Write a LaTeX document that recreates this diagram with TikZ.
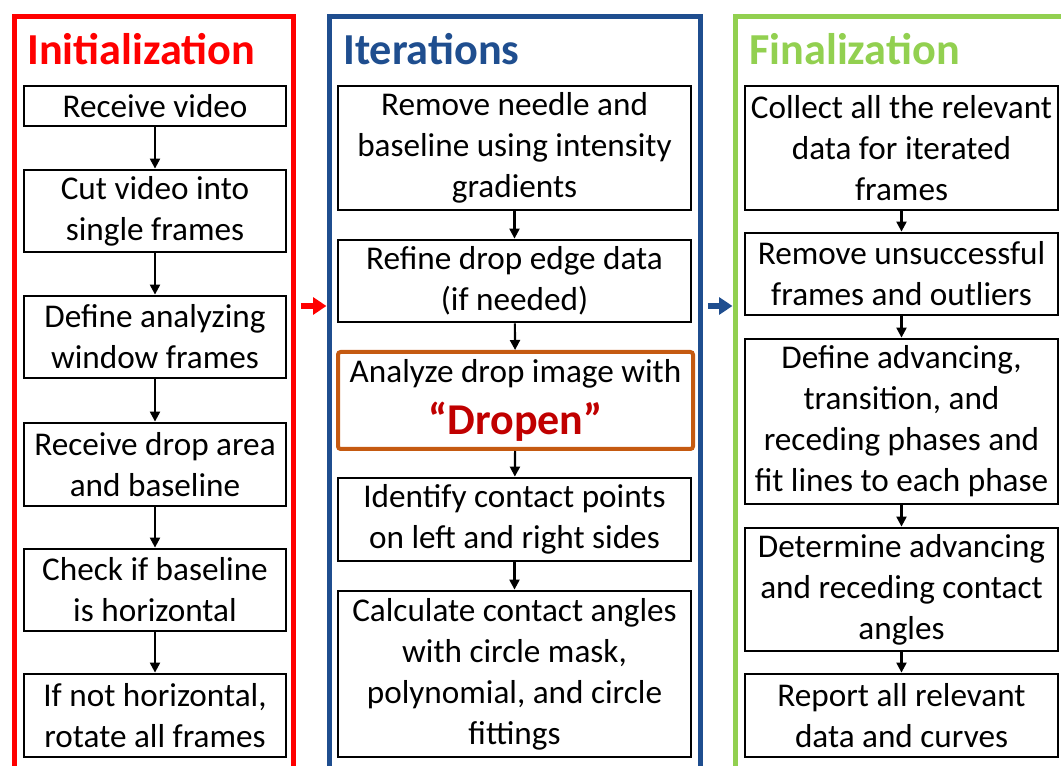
\documentclass[tikz,border=0pt]{standalone}
\usepackage{fontspec}
\setmainfont{Carlito}
\usetikzlibrary{arrows.meta}
\definecolor{initred}{HTML}{FF0000}
\definecolor{iterblue}{HTML}{1F4E8F}
\definecolor{fingreen}{HTML}{92D050}
\definecolor{dropenorange}{HTML}{C55A11}
\definecolor{dropenred}{HTML}{C00000}

\begin{document}
\begin{tikzpicture}
[x=0.75pt,y=-0.75pt,
panel/.style={draw,line width=3.75pt,inner sep=0pt},
title/.style={anchor=base west,inner sep=0pt,font=\fontsize{33.2}{40}\selectfont\bfseries},
stepbox/.style={draw,line width=2.1pt,align=center,inner xsep=0pt,inner ysep=0pt,font=\fontsize{24.9}{30.75}\selectfont},
flow/.style={line width=1.6pt,-{Triangle[length=7.5pt,width=7.5pt]}},
jump/.style={line width=4pt,-{Triangle[length=10pt,width=12.5pt]},shorten <=4pt}]
\useasboundingbox (0,0) rectangle (1061,766);
\clip (0,0) rectangle (1061,766);
% panels
\node[panel,draw=initred,minimum width=209.25pt,minimum height=587.25pt] (init) at (153.5,408.5) {};
\node[panel,draw=iterblue,minimum width=278.25pt,minimum height=587.25pt] (iter) at (514.5,408.5) {};
\node[panel,draw=fingreen,minimum width=266.25pt,minimum height=587.25pt] (fin) at (912.5,408.5) {};
\node[title,text=initred] (initT) at (27,65) {Initialization};
\node[title,text=iterblue] (iterT) at (343,65) {Iterations};
\node[title,text=fingreen] (finT) at (749,65) {Finalization};
% initialization
\node[stepbox,minimum width=196.5pt,minimum height=30pt] (i1) at (155,106) {Receive video};
\node[stepbox,minimum width=196.5pt,minimum height=61.5pt] (i2) at (155,211) {Cut video into\\single frames};
\node[stepbox,minimum width=196.5pt,minimum height=61.5pt] (i3) at (155,337) {Define analyzing\\window frames};
\node[stepbox,minimum width=196.5pt,minimum height=62.25pt] (i4) at (155,464.5) {Receive drop area\\and baseline};
\node[stepbox,minimum width=196.5pt,minimum height=61.5pt] (i5) at (155,590) {Check if baseline\\is horizontal};
\node[stepbox,minimum width=196.5pt,minimum height=62.25pt] (i6) at (155,715.5) {If not horizontal,\\rotate all frames};
% iterations
\node[stepbox,minimum width=264.75pt,minimum height=93pt] (t1) at (514.5,148) {Remove needle and\\baseline using intensity\\gradients};
\node[stepbox,minimum width=264.75pt,minimum height=61.5pt] (t2) at (514.5,281) {Refine drop edge data\\(if needed)};
\node[stepbox,draw=dropenorange,line width=3pt,rounded corners=2pt,minimum width=266.25pt,minimum height=72.75pt] (t3) at (515.5,400.5) {Analyze drop image with\\[8pt]{\fontsize{33}{40}\selectfont\bfseries\color{dropenred}“Dropen”}};
\node[stepbox,minimum width=264.75pt,minimum height=62.25pt] (t4) at (514.5,519.5) {Identify contact points\\on left and right sides};
\node[stepbox,minimum width=264.75pt,minimum height=124.5pt] (t5) at (514.5,674) {Calculate contact angles\\with circle mask,\\polynomial, and circle\\fittings};
% finalization
\node[stepbox,minimum width=234.75pt,minimum height=93pt] (f1) at (901.5,148) {Collect all the relevant\\data for iterated\\frames};
\node[stepbox,minimum width=234.75pt,minimum height=61.5pt] (f2) at (901.5,274) {Remove unsuccessful\\frames and outliers};
\node[stepbox,minimum width=234.75pt,minimum height=123.75pt] (f3) at (901.5,421.5) {Define advancing,\\transition, and\\receding phases and\\fit lines to each phase};
\node[stepbox,minimum width=234.75pt,minimum height=92.25pt] (f4) at (901.5,589.5) {Determine advancing\\and receding contact\\angles};
\node[stepbox,minimum width=234.75pt,minimum height=62.25pt] (f5) at (901.5,715.5) {Report all relevant\\data and curves};
\path[flow] (i1) edge (i2) (i2) edge (i3) (i3) edge (i4) (i4) edge (i5) (i5) edge (i6)
(t1) edge (t2) (t2) edge (t3) (t3) edge (t4) (t4) edge (t5)
(f1) edge (f2) (f2) edge (f3) (f3) edge (f4) (f4) edge (f5);
\coordinate (mid) at (0,306);
\draw[jump,initred] (init.east |- mid) -- (iter.west |- mid);
\draw[jump,iterblue] (iter.east |- mid) -- (fin.west |- mid);
\end{tikzpicture}
\end{document}
